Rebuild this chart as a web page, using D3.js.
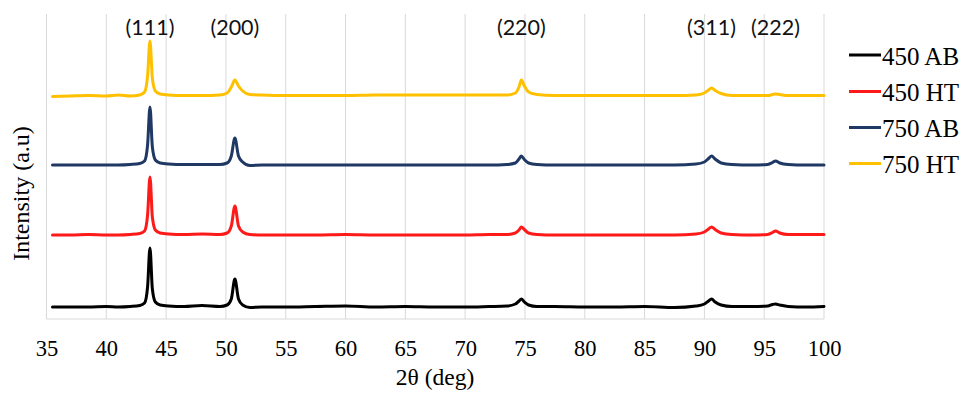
<!DOCTYPE html>
<html>
<head>
<meta charset="utf-8">
<script src="https://cdn.jsdelivr.net/npm/d3@7"></script>
<style>
  html, body { margin: 0; padding: 0; background: #fff; }
  svg { display: block; }
</style>
</head>
<body>
<svg id="chart" width="960" height="394"></svg>
<script>
// ---- Data ----
const seriesNames = ["450 AB", "450 HT", "750 AB", "750 HT"];
const seriesColors = ["#000000", "#ff1a1a", "#1f3864", "#ffc000"];
const xTicks = [35, 40, 45, 50, 55, 60, 65, 70, 75, 80, 85, 90, 95, 100];
const peakLabels = ["(111)", "(200)", "(220)", "(311)", "(222)"];
const peakPositions = [43.65, 50.75, 74.7, 90.6, 95.95];

const twoTheta = [35.5, 37, 38.5, 40, 41, 42, 42.8, 43.2, 43.45, 43.65, 43.85, 44.1, 44.5, 45.2, 46.5, 48, 49.5, 50.1, 50.45, 50.75, 51.05, 51.4, 52, 53, 55, 57.5, 60, 62.5, 65, 67.5, 70, 72, 73.5, 74.2, 74.5, 74.7, 74.95, 75.3, 76, 77.5, 80, 82.5, 85, 87.5, 89.3, 90.0, 90.35, 90.6, 90.9, 91.4, 92.3, 94, 95.3, 95.7, 95.95, 96.3, 97, 98.5, 100];

const ab450 = [12, 12, 12, 12.5, 12, 12.5, 13.5, 16, 32, 71, 30, 17, 14, 13, 12.5, 13.5, 12.5, 14, 20, 40, 20, 14, 11.5, 12, 12, 12.5, 13, 12, 12.5, 12, 12, 12.5, 13, 15, 18, 20, 17, 14, 12.5, 12.5, 12, 12, 12.5, 11.5, 13, 15, 18, 20, 17, 14, 12.5, 12.5, 13, 14.5, 15, 14, 12.5, 12, 12.5];
const ht450 = [84, 84, 84.5, 84, 84, 84.5, 85.5, 88, 104, 142, 102, 89, 86, 85, 84.5, 85, 84.5, 86, 93, 113, 93, 87, 84.5, 84, 84, 84, 84.5, 84, 84, 84, 84, 84.5, 84.5, 86, 89, 92, 89.5, 86, 84.5, 84, 84, 84, 84, 84, 85, 87, 90, 92, 89.5, 86, 84.5, 84, 84.5, 86.5, 88, 86, 84.5, 84.5, 84.5];
const ab750 = [154, 154, 154, 154, 154, 154.5, 155.5, 158, 174, 212, 172, 159, 156, 155, 154.5, 154.5, 154.5, 156, 163, 181, 163, 157, 153.5, 154, 154, 154, 154, 154, 154, 154, 154, 154, 154.5, 156, 160, 163, 159.5, 156, 154.5, 154, 154, 154, 154, 154, 155, 157, 160.5, 163, 160, 156, 154.5, 154, 154.5, 156.5, 158, 156, 154.5, 154, 154];
const ht750 = [222.5, 223, 223.5, 223, 224, 223, 224, 227, 243, 278, 241, 228, 225, 224, 223.5, 223.5, 224, 226, 232, 239, 233, 228, 224.5, 224, 223.5, 223.5, 223.5, 224, 224, 224, 224, 224, 224, 226, 232, 239, 233, 227, 224.5, 223.5, 223.5, 223.5, 223.5, 223.5, 224, 226, 229, 231, 228.5, 225.5, 223.5, 223.5, 223.5, 224.5, 225, 224.5, 223.5, 223.5, 223.5];

const seriesValues = [ab450, ht450, ab750, ht750];

// ---- Layout ----
const svg = d3.select("#chart");
const plotLeft = 46.5, plotRight = 824, plotTop = 14, plotBottom = 319;

const x = d3.scaleLinear().domain([35, 100]).range([plotLeft, plotRight]);
const y = d3.scaleLinear().domain([0, 305]).range([plotBottom, plotTop]);

const serif = "'Liberation Serif', 'Times New Roman', serif";
const sans = "Lato, 'Open Sans', sans-serif";

// gridlines
svg.append("g")
  .selectAll("line")
  .data(xTicks)
  .join("line")
  .attr("x1", d => x(d)).attr("x2", d => x(d))
  .attr("y1", plotTop).attr("y2", plotBottom)
  .attr("stroke", "#d9d9d9").attr("stroke-width", 1);

// bottom axis line
svg.append("line")
  .attr("x1", plotLeft).attr("x2", plotRight)
  .attr("y1", plotBottom).attr("y2", plotBottom)
  .attr("stroke", "#d9d9d9").attr("stroke-width", 1);

// x axis labels
const xAxis = d3.axisBottom(x).tickValues(xTicks).tickSize(0).tickPadding(0).tickFormat(d3.format("d"));
const gx = svg.append("g").attr("transform", `translate(0,${plotBottom})`).call(xAxis);
gx.select(".domain").remove();
gx.selectAll("text")
  .attr("dy", null).attr("y", 37)
  .attr("font-family", serif).attr("font-size", 22.5).attr("fill", "#000");

// axis titles
svg.append("text")
  .attr("x", 435).attr("y", 385)
  .attr("text-anchor", "middle")
  .attr("font-family", serif).attr("font-size", 23.5)
  .text("2θ (deg)");

svg.append("text")
  .attr("transform", "translate(29,193.5) rotate(-90)")
  .attr("text-anchor", "middle")
  .attr("font-family", serif).attr("font-size", 24)
  .text("Intensity (a.u)");

// lines
const line = d3.line()
  .x((d, i) => x(twoTheta[i]))
  .y(d => y(d))
  .curve(d3.curveMonotoneX);

svg.append("g")
  .selectAll("path")
  .data(seriesValues)
  .join("path")
  .attr("d", d => line(d))
  .attr("fill", "none")
  .attr("stroke", (d, i) => seriesColors[i])
  .attr("stroke-width", 3)
  .attr("stroke-linejoin", "round")
  .attr("stroke-linecap", "round");

// peak labels
svg.append("g")
  .selectAll("text")
  .data(peakLabels)
  .join("text")
  .attr("x", (d, i) => x(peakPositions[i]))
  .attr("y", 35)
  .attr("text-anchor", "middle")
  .attr("font-family", sans).attr("font-size", 21.5)
  .attr("fill", "#111")
  .text(d => d);

// legend
const legendY = [55, 91.5, 127.5, 163.5];
const lg = svg.append("g");
seriesNames.forEach((name, i) => {
  lg.append("line")
    .attr("x1", 849).attr("x2", 881)
    .attr("y1", legendY[i]).attr("y2", legendY[i])
    .attr("stroke", seriesColors[i]).attr("stroke-width", 3);
  lg.append("text")
    .attr("x", 882).attr("y", legendY[i] + 9.5)
    .attr("font-family", serif).attr("font-size", 25)
    .text(name);
});
</script>
</body>
</html>
